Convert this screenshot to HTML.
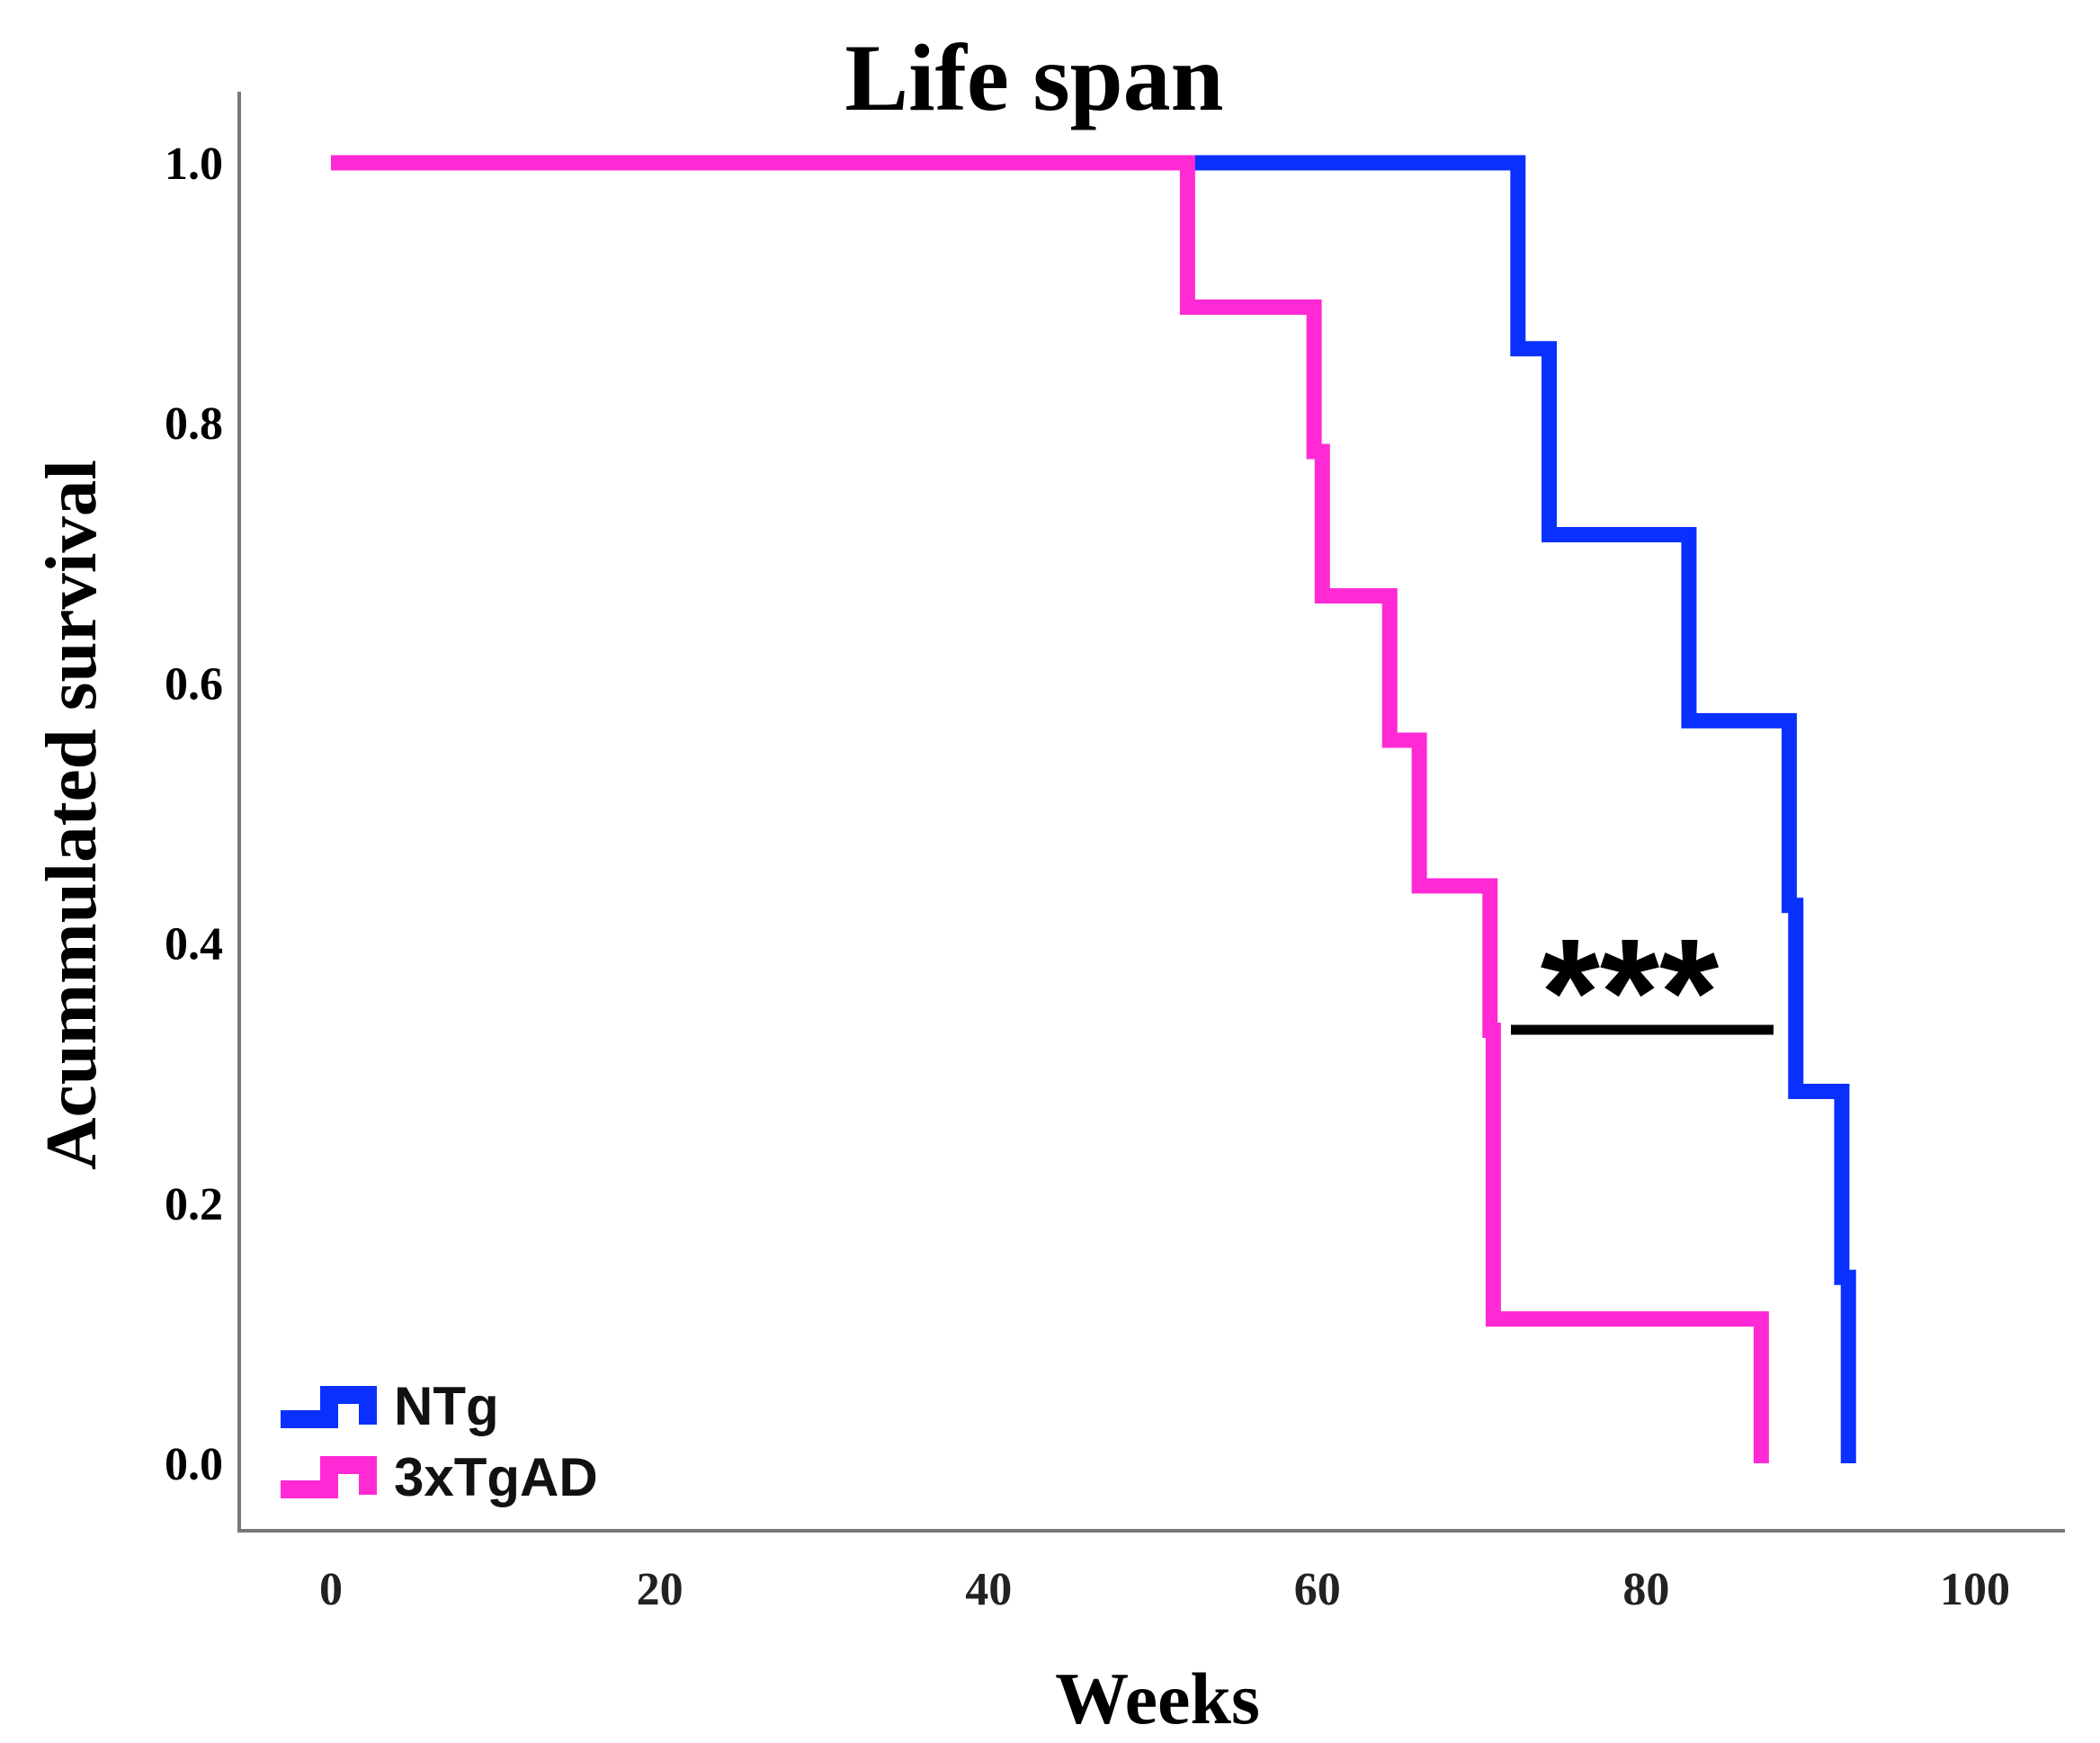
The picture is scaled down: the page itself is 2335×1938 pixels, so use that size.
<!DOCTYPE html>
<html><head><meta charset="utf-8"><style>
html,body{margin:0;padding:0;background:#fff}
svg{display:block}
</style></head><body>
<svg id="chart" width="2335" height="1938" viewBox="0 0 2335 1938" xmlns="http://www.w3.org/2000/svg">
<text x="1150" y="122" text-anchor="middle" font-family="Liberation Serif, serif" font-weight="bold" font-size="106">Life span</text>
<g id="axes"></g>
<g id="series"></g>
<g>
<text x="1812" y="1162" text-anchor="middle" font-family="Liberation Sans, sans-serif" font-weight="bold" font-size="170">***</text>
<line x1="1680" y1="1145" x2="1972" y2="1145" stroke="#000" stroke-width="11"/>
</g>
<g>
<path d="M312,1578 H366 V1551 H409 V1584" fill="none" stroke="#0a30ff" stroke-width="20"/>
<text x="438" y="1584" font-family="Liberation Sans, sans-serif" font-weight="bold" font-size="60" fill="#111">NTg</text>
<path d="M312,1656 H366 V1629 H409 V1662" fill="none" stroke="#ff2ad4" stroke-width="20"/>
<text x="438" y="1663" font-family="Liberation Sans, sans-serif" font-weight="bold" font-size="60" fill="#111">3xTgAD</text>
</g>
<text x="1287" y="1916" text-anchor="middle" font-family="Liberation Serif, serif" font-weight="bold" font-size="82">Weeks</text>
<text transform="translate(106,906) rotate(-90)" text-anchor="middle" font-family="Liberation Serif, serif" font-weight="bold" font-size="81">Acummulated survival</text>
</svg>
<script>
const xTicks = [0, 20, 40, 60, 80, 100];
const yTicks = [0.0, 0.2, 0.4, 0.6, 0.8, 1.0];
const ntgTimes = [0, 72.2, 74.1, 82.6, 88.7, 89.1, 91.9, 92.3];
const ntgSurv = [1.0, 0.857, 0.714, 0.571, 0.429, 0.286, 0.143, 0.0];
const adTimes = [0, 52.1, 59.8, 60.3, 64.4, 66.2, 70.5, 70.7, 87.0];
const adSurv = [1.0, 0.889, 0.778, 0.667, 0.556, 0.444, 0.333, 0.111, 0.0];

const NS = 'http://www.w3.org/2000/svg';
const X = v => 368 + (v - 0) * (2196 - 368) / 100;
const Y = v => 1627 - v * (1627 - 181);
const axes = document.getElementById('axes');
const series = document.getElementById('series');

const yAxis = document.createElementNS(NS, 'path');
yAxis.setAttribute('d', 'M266,102 V1702 H2296');
yAxis.setAttribute('fill', 'none');
yAxis.setAttribute('stroke', '#777');
yAxis.setAttribute('stroke-width', '4');


axes.appendChild(yAxis);

xTicks.forEach(t => {
  const el = document.createElementNS(NS, 'text');
  el.setAttribute('x', X(t));
  el.setAttribute('y', 1784);
  el.setAttribute('text-anchor', 'middle');
  el.setAttribute('font-family', 'Liberation Serif, serif');
  el.setAttribute('font-weight', 'bold');
  el.setAttribute('font-size', '52');
  el.setAttribute('fill', '#222');
  el.textContent = String(t);
  
  
  axes.appendChild(el);
});
yTicks.forEach(t => {
  const el = document.createElementNS(NS, 'text');
  el.setAttribute('x', 248);
  el.setAttribute('y', Y(t) + 18);
  el.setAttribute('text-anchor', 'end');
  el.setAttribute('font-family', 'Liberation Serif, serif');
  el.setAttribute('font-weight', 'bold');
  el.setAttribute('font-size', '52');
  el.textContent = t.toFixed(1);
  
  
  axes.appendChild(el);
});

function stepPath(times, surv) {
  let d = 'M' + X(times[0]) + ',' + Y(surv[0]);
  for (let i = 1; i < times.length; i++) {
    d += ' H' + X(times[i]) + ' V' + Y(surv[i]);
  }
  return d;
}
const ntg = document.createElementNS(NS, 'path');
ntg.setAttribute('d', stepPath(ntgTimes, ntgSurv));
ntg.setAttribute('fill', 'none');
ntg.setAttribute('stroke', '#0a30ff');
ntg.setAttribute('stroke-width', '17');


series.appendChild(ntg);
const ad = document.createElementNS(NS, 'path');
ad.setAttribute('d', stepPath(adTimes, adSurv));
ad.setAttribute('fill', 'none');
ad.setAttribute('stroke', '#ff2ad4');
ad.setAttribute('stroke-width', '17');


series.appendChild(ad);
</script>
</body></html>
